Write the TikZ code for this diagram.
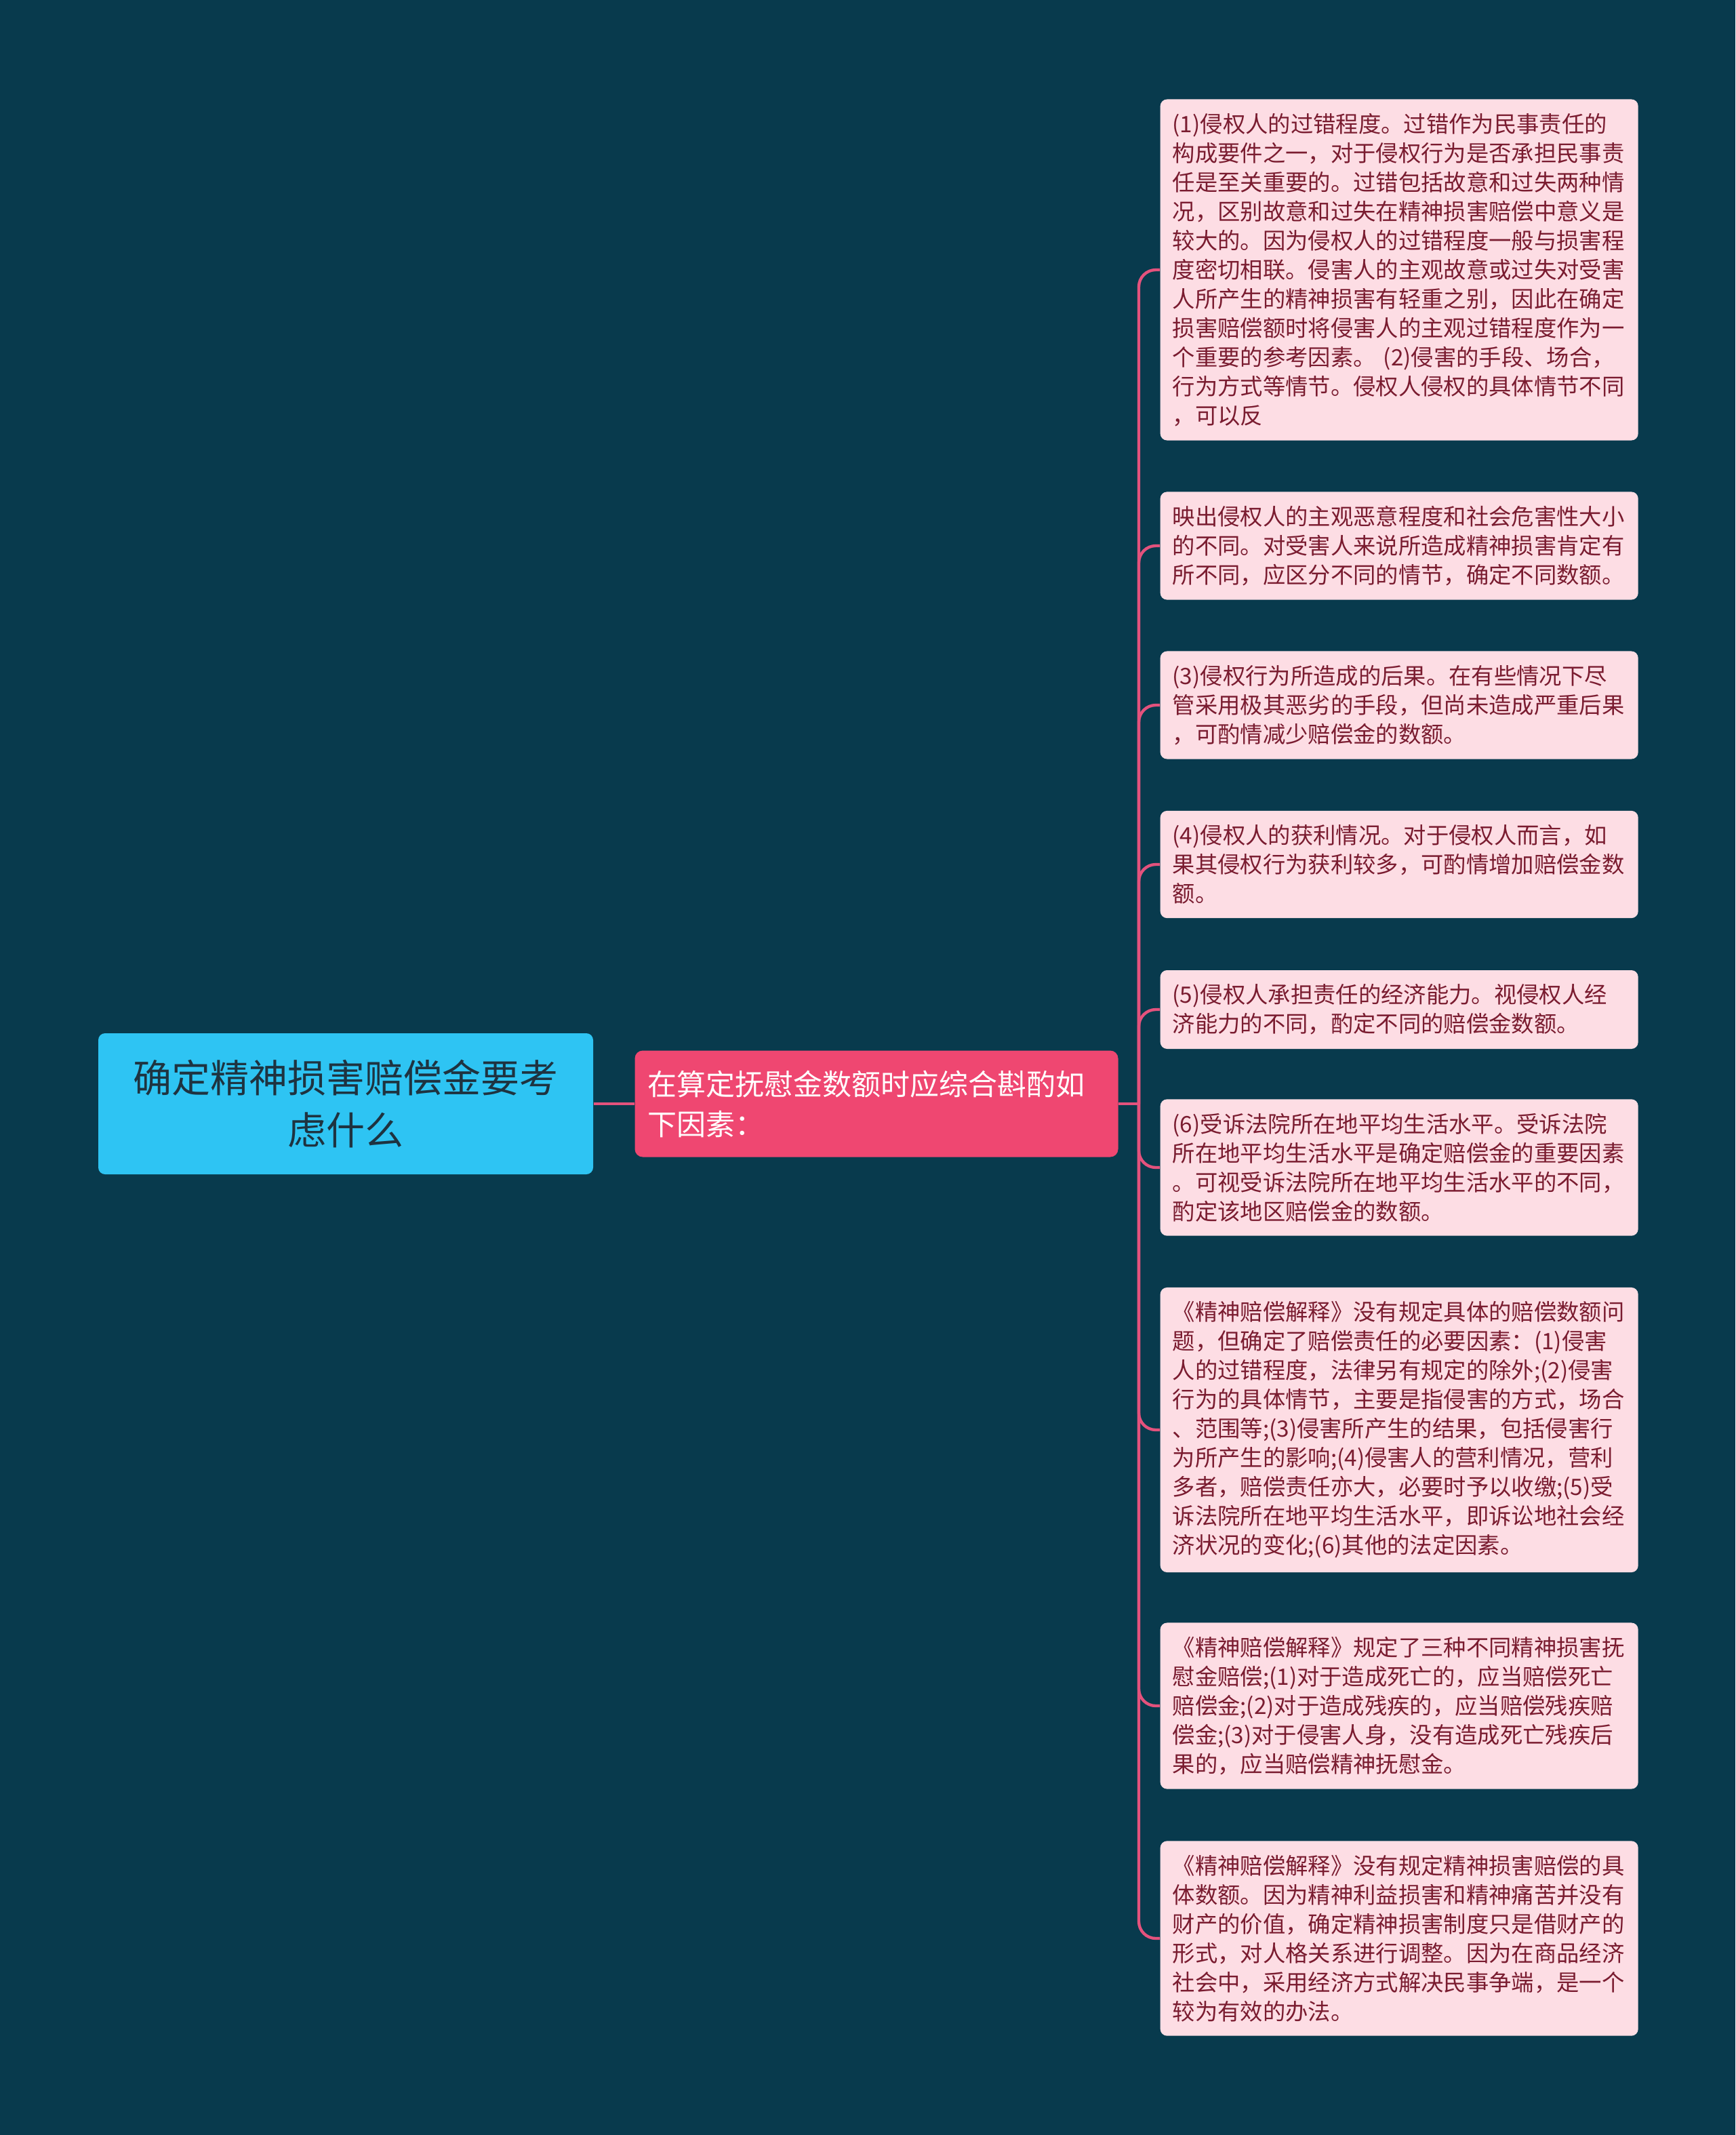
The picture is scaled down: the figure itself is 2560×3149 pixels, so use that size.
\documentclass[tikz,border=0pt]{standalone}
\usepackage{fontspec}
\newfontfamily\cjk{Noto Sans CJK SC}
\definecolor{bgteal}{HTML}{083A4D}
\definecolor{rootblue}{HTML}{2EC4F3}
\definecolor{roottext}{HTML}{1E3340}
\definecolor{midpink}{HTML}{EF4771}
\definecolor{leafpink}{HTML}{FDDDE4}
\definecolor{leaftext}{HTML}{7A1C30}
\definecolor{linkpink}{HTML}{E4527D}

\begin{document}
\begin{tikzpicture}[
    x=0.3pt, y=-0.3pt,
    root/.style={rectangle, rounded corners=3pt, fill=rootblue, text=roottext, align=center, minimum width=219pt, minimum height=62.4pt, inner sep=0pt, font=\cjk\fontsize{17.1pt}{23.1pt}\selectfont},
    topic/.style={rectangle, rounded corners=3.5pt, fill=midpink, text=white, align=left, text width=202.5pt, inner xsep=5.7pt, minimum height=47.1pt, font=\cjk\fontsize{12.9pt}{17.7pt}\selectfont},
    leaf/.style={rectangle, rounded corners=3pt, fill=leafpink, text=leaftext, align=left, text width=200.7pt, inner xsep=5.4pt, inner ysep=6.2pt, anchor=west, font=\cjk\fontsize{10pt}{12.9pt}\selectfont},
    link/.style={draw=linkpink, line width=1.3pt, rounded corners=7.5pt}
]

% Background
\fill[bgteal] (0,0) rectangle (2560,3149);

% Root and topic
\node[root] (root) at (510,1628) {确定精神损害赔偿金要考\\虑什么};
\node[topic] (topic) at (1293,1628) {在算定抚慰金数额时应综合斟酌如\\下因素：};

% Leaves
\node[leaf] (l1) at (1711,398) {(1)侵权人的过错程度。过错作为民事责任的\\
构成要件之一，对于侵权行为是否承担民事责\\
任是至关重要的。过错包括故意和过失两种情\\
况，区别故意和过失在精神损害赔偿中意义是\\
较大的。因为侵权人的过错程度一般与损害程\\
度密切相联。侵害人的主观故意或过失对受害\\
人所产生的精神损害有轻重之别，因此在确定\\
损害赔偿额时将侵害人的主观过错程度作为一\\
个重要的参考因素。 (2)侵害的手段、场合，\\
行为方式等情节。侵权人侵权的具体情节不同\\
，可以反};
\node[leaf] (l2) at (1711,805) {映出侵权人的主观恶意程度和社会危害性大小\\
的不同。对受害人来说所造成精神损害肯定有\\
所不同，应区分不同的情节，确定不同数额。};
\node[leaf] (l3) at (1711,1040) {(3)侵权行为所造成的后果。在有些情况下尽\\
管采用极其恶劣的手段，但尚未造成严重后果\\
，可酌情减少赔偿金的数额。};
\node[leaf] (l4) at (1711,1275) {(4)侵权人的获利情况。对于侵权人而言，如\\
果其侵权行为获利较多，可酌情增加赔偿金数\\
额。};
\node[leaf] (l5) at (1711,1489) {(5)侵权人承担责任的经济能力。视侵权人经\\
济能力的不同，酌定不同的赔偿金数额。};
\node[leaf] (l6) at (1711,1722) {(6)受诉法院所在地平均生活水平。受诉法院\\
所在地平均生活水平是确定赔偿金的重要因素\\
。可视受诉法院所在地平均生活水平的不同，\\
酌定该地区赔偿金的数额。};
\node[leaf] (l7) at (1711,2109) {《精神赔偿解释》没有规定具体的赔偿数额问\\
题，但确定了赔偿责任的必要因素：(1)侵害\\
人的过错程度，法律另有规定的除外;(2)侵害\\
行为的具体情节，主要是指侵害的方式，场合\\
、范围等;(3)侵害所产生的结果，包括侵害行\\
为所产生的影响;(4)侵害人的营利情况，营利\\
多者，赔偿责任亦大，必要时予以收缴;(5)受\\
诉法院所在地平均生活水平，即诉讼地社会经\\
济状况的变化;(6)其他的法定因素。};
\node[leaf] (l8) at (1711,2516) {《精神赔偿解释》规定了三种不同精神损害抚\\
慰金赔偿;(1)对于造成死亡的，应当赔偿死亡\\
赔偿金;(2)对于造成残疾的，应当赔偿残疾赔\\
偿金;(3)对于侵害人身，没有造成死亡残疾后\\
果的，应当赔偿精神抚慰金。};
\node[leaf] (l9) at (1711,2859) {《精神赔偿解释》没有规定精神损害赔偿的具\\
体数额。因为精神利益损害和精神痛苦并没有\\
财产的价值，确定精神损害制度只是借财产的\\
形式，对人格关系进行调整。因为在商品经济\\
社会中，采用经济方式解决民事争端，是一个\\
较为有效的办法。};

% Links
\coordinate (hub) at (1680,1628);
\draw[link] (root.east) -- (topic.west);
\draw[link] (topic.east) -- (hub);
\foreach \i in {1,...,9}
    \draw[link] (hub) |- (l\i.west);

\end{tikzpicture}
\end{document}
